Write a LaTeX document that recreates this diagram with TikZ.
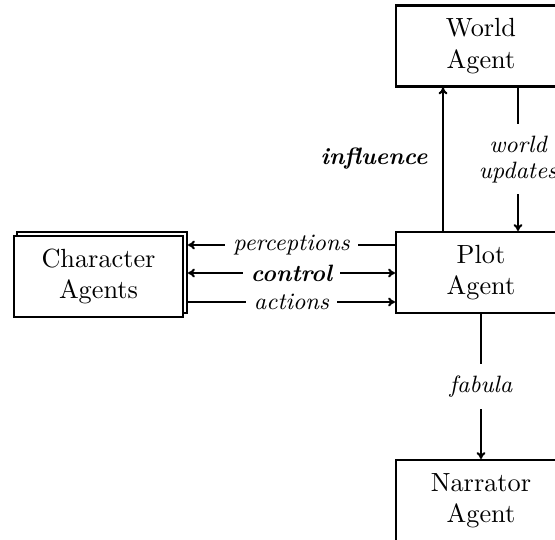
\documentclass[tikz,border=0pt]{standalone}
\usetikzlibrary{arrows.meta}
\newlength\pxu
\setlength\pxu{0.3807pt}
\begin{document}
\begin{tikzpicture}[x=0.3807pt, y=-0.3807pt,
  >={To[length=2.6pt, width=3.4pt]},
  agent/.style={draw, thick, fill=white, align=center, minimum width=170*\pxu, minimum height=81*\pxu, inner sep=0pt, font=\normalsize},
  flow/.style={thick},
  lbl/.style={font=\fontsize{9}{10}\selectfont\itshape, fill=white, align=center, inner sep=3pt},
  blbl/.style={font=\fontsize{9}{10}\selectfont\bfseries\itshape, fill=white, align=center, inner sep=3pt}
]
\useasboundingbox (0,0) rectangle (555,540);
% agents
\node[agent] (world) at (481,46) {World\\Agent};
\node[agent] (plot) at (481,272.5) {Plot\\Agent};
\node[agent] (narr) at (481,500.5) {Narrator\\Agent};
\node[agent] (charback) at (102,272.5) {};
\node[agent, minimum width=169*\pxu] (char) at (98.5,276.5) {Character\\Agents};
% helper coordinates
\coordinate (yp) at (0,245);
\coordinate (yc) at (0,273);
\coordinate (ya) at (0,302);
\coordinate (xi) at (443,0);
\coordinate (xu) at (518,0);
% connectors
\draw[flow,->] (plot.west |- yp) -- node[lbl] (lp) {perceptions} (charback.east |- yp);
\draw[flow,<->] (charback.east |- yc) -- node[blbl] (lc) {control} (plot.west |- yc);
\draw[flow,->] (charback.east |- ya) -- node[lbl] (la) {actions} (plot.west |- ya);
\draw[flow,->] (plot.north -| xi) -- (world.south -| xi);
\node[blbl] (li) at (374,159) {influence};
\draw[flow,->] (world.south -| xu) -- node[lbl, inner sep=4.3pt] (lu) {world\\updates} (plot.north -| xu);
\draw[flow,->] (plot.south) -- node[lbl, inner sep=4.3pt] (lf) {fabula} (narr.north);
\end{tikzpicture}
\end{document}
